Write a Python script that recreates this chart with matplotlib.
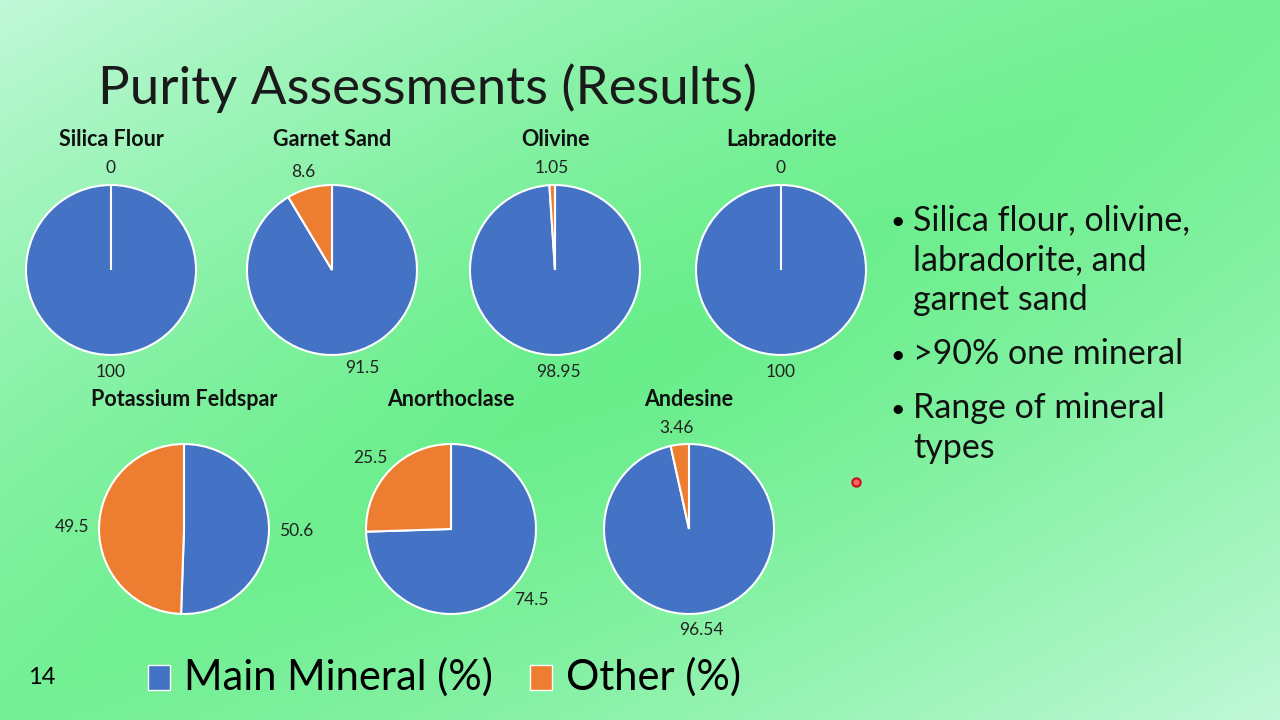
import numpy as np
import matplotlib
matplotlib.use("Agg")
import matplotlib.pyplot as plt
from matplotlib.patches import Rectangle

# data
minerals = ["Silica Flour", "Garnet Sand", "Olivine", "Labradorite",
            "Potassium Feldspar", "Anorthoclase", "Andesine"]
main_pct = [100, 91.5, 98.95, 100, 50.6, 74.5, 96.54]
other_pct = [0, 8.6, 1.05, 0, 49.5, 25.5, 3.46]
main_lbl = ["100", "91.5", "98.95", "100", "50.6", "74.5", "96.54"]
other_lbl = ["0", "8.6", "1.05", "0", "49.5", "25.5", "3.46"]
series = ["Main Mineral (%)", "Other (%)"]
bullets = ["Silica flour, olivine,\nlabradorite, and\ngarnet sand",
           ">90% one mineral",
           "Range of mineral\ntypes"]

BLUE = "#4472C4"
ORANGE = "#ED7D31"
W, H = 1280, 720
FONT = ["Lato", "DejaVu Sans"]

fig = plt.figure(figsize=(W / 100, H / 100), dpi=100)

# gradient background (diagonal: light corners top-left / bottom-right)
bg = fig.add_axes([0, 0, 1, 1])
xx, yy = np.meshgrid(np.linspace(0, 1, 320), np.linspace(0, 1, 180))
s = (xx + yy) / 2
d = np.abs(s - 0.5) * 2
r = np.sqrt((xx - 0.5) ** 2 + (yy - 0.5) ** 2) / np.sqrt(0.5)
t = np.clip(0.85 * d ** 1.3 + 0.15 * r, 0, 1)
green = np.array([0x68, 0xee, 0x8a]) / 255
light = np.array([0xc0, 0xf8, 0xd8]) / 255
img = green[None, None, :] * (1 - t[..., None]) + light[None, None, :] * t[..., None]
bg.imshow(img, extent=[0, W, H, 0], aspect="auto")
bg.set_xlim(0, W)
bg.set_ylim(H, 0)
bg.axis("off")

# slide title
bg.text(98, 88, "Purity Assessments (Results)", fontsize=38, fontweight="normal",
        family=FONT, va="center", ha="left", color="#1a1a1a")

# pie centres (pixel coords) and radius
centers = [(111, 270), (332, 270), (555, 270), (781, 270),
           (184, 529), (451, 529), (689, 529)]
R = 85
span = 1.6

for name, m, o, ml, ol, (cx, cy) in zip(minerals, main_pct, other_pct,
                                         main_lbl, other_lbl, centers):
    size = 2 * span * R
    ax = fig.add_axes([(cx - size / 2) / W, 1 - (cy + size / 2) / H, size / W, size / H])
    vals = [m, o]
    ax.pie(vals, colors=[BLUE, ORANGE], startangle=90, counterclock=False,
           radius=1, wedgeprops=dict(edgecolor="white", linewidth=1.5))
    total = sum(vals)
    start = 90
    for v, lab in zip(vals, [ml, ol]):
        sweep = v / total * 360
        mid = np.deg2rad(start - sweep / 2)
        start -= sweep
        c, sn = np.cos(mid), np.sin(mid)
        w = len(lab) * 0.1
        x = 1.12 * c + 0.5 * w * c
        y = 1.08 * sn + 0.12 * sn
        ax.text(x, y, lab, ha="center", va="center", fontsize=12.5, family=FONT,
                color="#222222")
    ax.set_xlim(-span, span)
    ax.set_ylim(-span, span)
    ax.set_aspect("equal")
    ax.axis("off")
    bg.text(cx, cy - 130, name, ha="center", va="center", fontsize=15.5,
            fontweight="bold", family=FONT, color="#111111")

# bullet list
by = 220
for b in bullets:
    lines = b.split("\n")
    bg.text(890, by + 2, "\u2022", fontsize=18, family=FONT, va="center", ha="left")
    for ln in lines:
        bg.text(913, by, ln, fontsize=24.5, family=FONT, va="center", ha="left",
                color="#111111")
        by += 40
    by += 14

# legend
bg.add_patch(Rectangle((148, 665), 22, 25, facecolor=BLUE, edgecolor="white", lw=1))
bg.text(184, 677, series[0], fontsize=30, family=FONT, va="center", ha="left")
bg.add_patch(Rectangle((530, 665), 22, 25, facecolor=ORANGE, edgecolor="white", lw=1))
bg.text(566, 677, series[1], fontsize=30, family=FONT, va="center", ha="left")

# slide number and pointer dot
bg.text(42, 678, "14", fontsize=17, family=FONT, va="center", ha="center")
bg.plot([856], [482], marker="o", ms=6, mfc="#ff6060", mec="#cc1020", mew=1.5)

fig.savefig("out.png", dpi=100)
